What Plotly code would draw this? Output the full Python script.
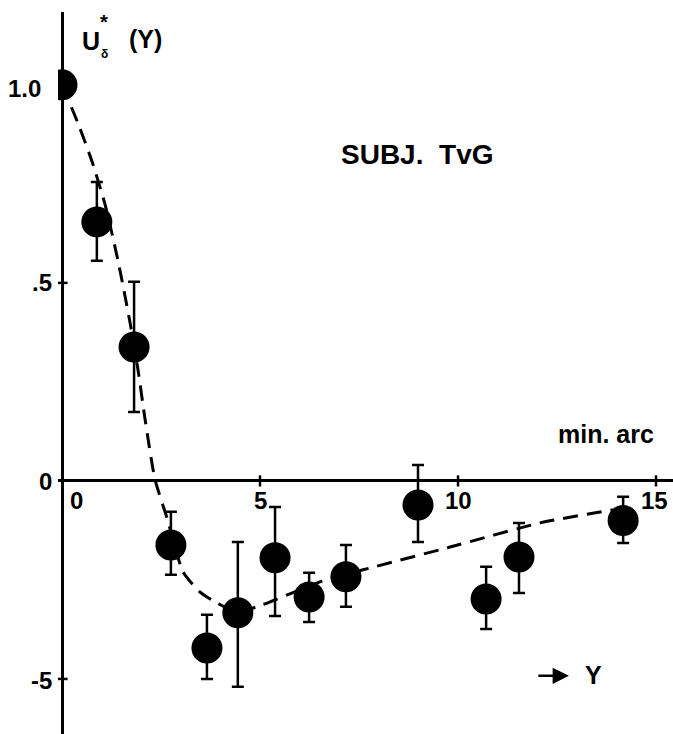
import plotly.graph_objects as go

# Measured response U*(Y) with error limits (Y in min. arc)
y_pos = [0.0, 0.88, 1.82, 2.75, 3.66, 4.44, 5.38, 6.24, 7.17, 8.99, 10.71, 11.54, 14.17]
u_val = [1.0, 0.654, 0.338, -0.162, -0.422, -0.333, -0.194, -0.293, -0.242, -0.061, -0.298, -0.192, -0.100]
u_upper = [1.0, 0.755, 0.503, -0.078, -0.338, -0.154, -0.066, -0.232, -0.162, 0.040, -0.217, -0.106, -0.040]
u_lower = [1.0, 0.556, 0.174, -0.237, -0.500, -0.520, -0.341, -0.356, -0.318, -0.154, -0.374, -0.283, -0.157]

# Hand-drawn dashed trend curve
curve_x = [0.0, 0.40, 0.76, 1.09, 1.41, 1.72, 1.92, 2.10, 2.35, 2.65, 3.06, 3.48, 3.91,
           4.44, 5.05, 6.57, 7.58, 9.80, 12.07, 13.91]
curve_y = [1.0, 0.904, 0.806, 0.697, 0.558, 0.399, 0.280, 0.154, 0.003, -0.093, -0.230,
           -0.280, -0.308, -0.331, -0.313, -0.253, -0.225, -0.167, -0.106, -0.073]

# Axis ticks
x_ticks = [0, 5, 10, 15]
x_tick_text = ["0", "5", "10", "15"]
y_ticks = [1.0, 0.5, 0.0, -0.5]
y_tick_text = ["1.0", ".5", "0", "-5"]

FONT = "Liberation Sans"
INK = "black"

err_plus = [u - v for u, v in zip(u_upper, u_val)]
err_minus = [v - l for v, l in zip(u_val, u_lower)]

fig = go.Figure()

fig.add_trace(go.Scatter(
    x=curve_x, y=curve_y, mode="lines",
    line=dict(color=INK, width=3, dash="15px,9px", shape="spline", smoothing=0.6),
    hoverinfo="skip", showlegend=False,
))

fig.add_trace(go.Scatter(
    x=y_pos, y=u_val, mode="markers",
    marker=dict(color=INK, size=31, line=dict(width=0)),
    error_y=dict(type="data", symmetric=False, array=err_plus, arrayminus=err_minus,
                 color=INK, thickness=2.5, width=6),
    showlegend=False,
))

# small tick marks on the axes
fig.add_trace(go.Scatter(
    x=x_ticks[1:], y=[0] * (len(x_ticks) - 1), mode="markers",
    marker=dict(symbol="line-ns", size=8, line=dict(color=INK, width=2.5)),
    hoverinfo="skip", showlegend=False,
))
fig.add_trace(go.Scatter(
    x=[0] * 2, y=[y_ticks[1], y_ticks[3]], mode="markers",
    marker=dict(symbol="line-ew", size=8, line=dict(color=INK, width=2.5)),
    hoverinfo="skip", showlegend=False,
))

annotations = []
x_shift = [14, 0, 0, -2]
for v, t, dx in zip(x_ticks, x_tick_text, x_shift):
    annotations.append(dict(x=v, y=0, text="<b>" + t + "</b>", showarrow=False,
                            xshift=dx, yshift=-20,
                            font=dict(family=FONT, size=24, color=INK)))
y_xshift = [-19, -8, -8, -8]
y_yshift = [-4, 0, -1, -2]
for v, t, dx, dy in zip(y_ticks, y_tick_text, y_xshift, y_yshift):
    annotations.append(dict(x=0, y=v, text="<b>" + t + "</b>", showarrow=False,
                            xanchor="right", xshift=dx, yshift=dy,
                            font=dict(family=FONT, size=24, color=INK)))


def label(x, y, text, size, **kw):
    annotations.append(dict(x=x, y=y, text="<b>" + text + "</b>", showarrow=False,
                            font=dict(family=FONT, size=size, color=INK), **kw))


# axis title U*_δ (Y), built from separate pieces so the index and star stack
label(0.72, 1.111, "U", 25)
label(1.06, 1.158, "*", 20)
label(1.08, 1.079, "δ", 12)
label(2.12, 1.116, "(Y)", 25)
label(8.96, 0.823, "SUBJ.  TvG", 28)
label(13.74, 0.119, "min. arc", 25)
label(13.41, -0.490, "Y", 25)

# arrow pointing along Y
annotations.append(dict(x=12.80, y=-0.492, ax=-32, ay=0, text="", showarrow=True,
                        arrowhead=2, arrowsize=1.3, arrowwidth=2.5, arrowcolor=INK))

fig.update_layout(
    width=673, height=734,
    margin=dict(l=58, r=0, t=12, b=0),
    paper_bgcolor="white", plot_bgcolor="white",
    annotations=annotations,
    xaxis=dict(range=[-0.101, 15.429], showgrid=False, showticklabels=False, ticks="",
               zeroline=True, zerolinecolor=INK, zerolinewidth=3, fixedrange=True),
    yaxis=dict(range=[-0.639, 1.184], showgrid=False, showticklabels=False, ticks="",
               zeroline=True, zerolinecolor=INK, zerolinewidth=3, fixedrange=True),
)

fig.write_html("out.html")
